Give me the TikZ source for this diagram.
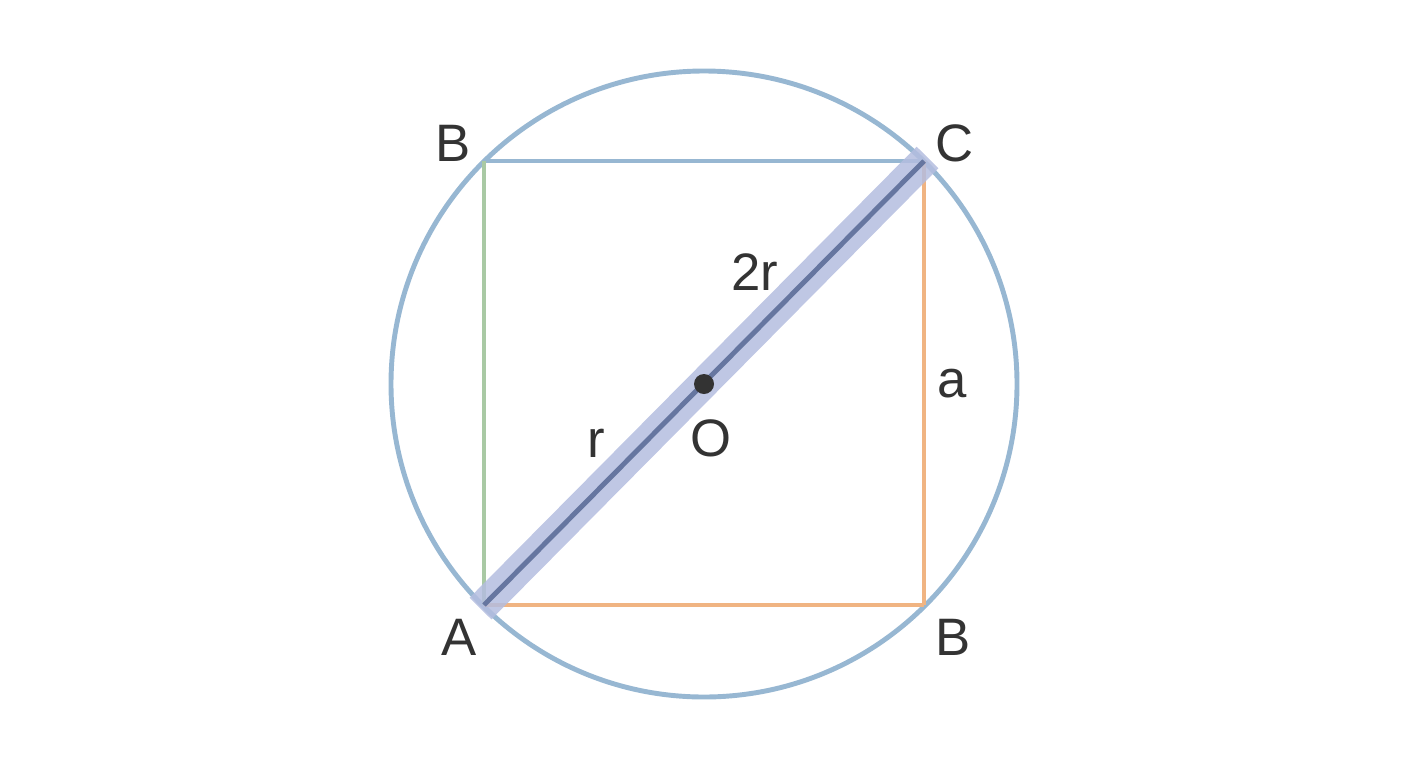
\documentclass[tikz,border=0pt]{standalone}
\usepackage{fontspec}
\setmainfont{Liberation Sans}
\usepackage{tikz}
\usetikzlibrary{calc}

\definecolor{ringblue}{HTML}{97B7D2}
\definecolor{sidegreen}{HTML}{A9C9A4}
\definecolor{sideorange}{HTML}{F0B482}
\definecolor{bandblue}{HTML}{B4BDDF}
\definecolor{diagdark}{HTML}{6676A0}
\definecolor{labelgray}{HTML}{333333}

\tikzset{
	label/.style = {text = labelgray, font = \fontsize{30}{35}\selectfont},
	side/.style = {line width = 2.6pt}
}

\begin{document}
\begin{tikzpicture}[x = 0.02cm, y = -0.02cm]
							\useasboundingbox (0,0) rectangle (1408,768);
				
							\coordinate (O) at (704,384);
							\coordinate (A) at (484,605);
							\coordinate (B1) at (924,605);
							\coordinate (C) at (924,161);
							\coordinate (B2) at (484,161);
				
							\draw [ringblue, line width = 2.8pt] (O) circle (313);
				
							\draw [side, ringblue] (B2) -- (C);
							\draw [side, sidegreen] (B2) -- (A);
							\begin{scope}[side, sideorange]
								\draw (A) -- (B1);
								\draw (B1) -- (C);
							\end{scope}
				
							\draw [bandblue, opacity = 0.85, line width = 17.5pt] ($(A)!-0.008!(C)$) -- ($(C)!-0.008!(A)$);
							\draw [diagdark, line width = 2.8pt] (A) -- (C);
							\fill [labelgray] (O) circle (10);
				
							\node [label] (lA) at (459,637) {A};
							\node [label] (lB1) at (953,637) {B};
							\node [label] (lC) at (955,143) {C};
							\node [label] (lB2) at (453,143) {B};
							\node [label] (lO) at (711,438) {O};
							\node [label] (lr) at (596,443) {r};
							\node [label] (l2r) at (755,272) {2r};
							\node [label] (la) at (952,384) {a};
						\end{tikzpicture}
\end{document}
